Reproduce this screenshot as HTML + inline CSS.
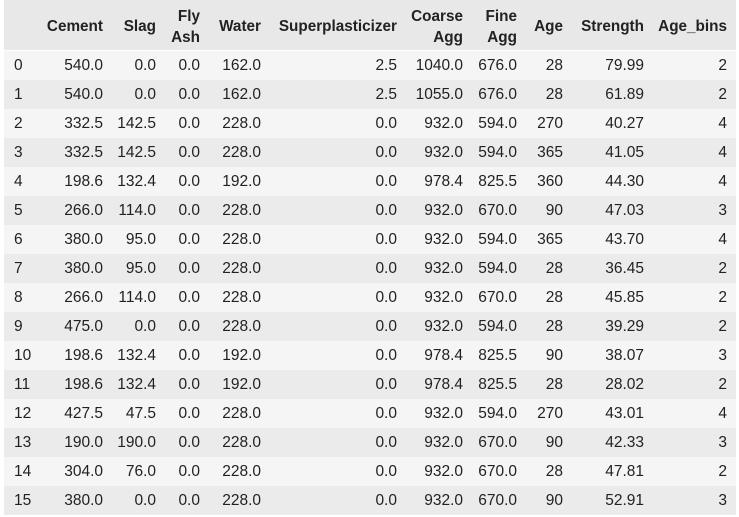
<!DOCTYPE html>
<html><head><meta charset="utf-8">
<style>
html,body{margin:0;padding:0;background:#fff;width:739px;height:517px;overflow:hidden}
body{font-family:"Liberation Sans",sans-serif;color:#222;position:relative}
.row{position:absolute;left:4px;width:732px}
.c{position:absolute;font-size:15.5px;white-space:nowrap;text-align:right}
.h .c{font-weight:bold;font-size:15.3px;line-height:21px}
</style></head><body>
<div id="tbl"></div>
<script>
const headers=[["",""],["","Cement"],["","Slag"],["Fly","Ash"],["","Water"],["","Superplasticizer"],["Coarse","Agg"],["Fine","Agg"],["","Age"],["","Strength"],["","Age_bins"]];
const rights=[null,103,156,200,261,397,463,517,563,644,727];
const rows=[
[0,"540.0","0.0","0.0","162.0","2.5","1040.0","676.0","28","79.99","2"],
[1,"540.0","0.0","0.0","162.0","2.5","1055.0","676.0","28","61.89","2"],
[2,"332.5","142.5","0.0","228.0","0.0","932.0","594.0","270","40.27","4"],
[3,"332.5","142.5","0.0","228.0","0.0","932.0","594.0","365","41.05","4"],
[4,"198.6","132.4","0.0","192.0","0.0","978.4","825.5","360","44.30","4"],
[5,"266.0","114.0","0.0","228.0","0.0","932.0","670.0","90","47.03","3"],
[6,"380.0","95.0","0.0","228.0","0.0","932.0","594.0","365","43.70","4"],
[7,"380.0","95.0","0.0","228.0","0.0","932.0","594.0","28","36.45","2"],
[8,"266.0","114.0","0.0","228.0","0.0","932.0","670.0","28","45.85","2"],
[9,"475.0","0.0","0.0","228.0","0.0","932.0","594.0","28","39.29","2"],
[10,"198.6","132.4","0.0","192.0","0.0","978.4","825.5","90","38.07","3"],
[11,"198.6","132.4","0.0","192.0","0.0","978.4","825.5","28","28.02","2"],
[12,"427.5","47.5","0.0","228.0","0.0","932.0","594.0","270","43.01","4"],
[13,"190.0","190.0","0.0","228.0","0.0","932.0","670.0","90","42.33","3"],
[14,"304.0","76.0","0.0","228.0","0.0","932.0","670.0","28","47.81","2"],
[15,"380.0","0.0","0.0","228.0","0.0","932.0","670.0","90","52.91","3"]];
const tbl=document.getElementById('tbl');
const hr=document.createElement('div');
hr.className='row h';
hr.style.top='0px';hr.style.height='50px';hr.style.background='#e8e8e8';


tbl.appendChild(hr);
headers.forEach((h,j)=>{
  if(j===0)return;
  const d=document.createElement('div');
  d.className='c';
  
  
  d.style.right=(732-(rights[j]-4))+'px';
  if(h[0]){d.style.top='6px';d.innerHTML=h[0]+'<br>'+h[1];}
  else{d.style.top='16px';d.textContent=h[1];}
  hr.appendChild(d);
});
rows.forEach((r,i)=>{
  const rw=document.createElement('div');
  rw.className='row';
  
  
  rw.style.top=(50.5+29*i)+'px';rw.style.height='29px';
  rw.style.background=i%2?'#ebebeb':'#f5f5f5';
  tbl.appendChild(rw);
  r.forEach((v,j)=>{
    const d=document.createElement('div');
    d.className='c';
    
    
    d.style.top='6.5px';
    if(j===0){d.style.left='10px';d.style.textAlign='left';}
    else d.style.right=(732-(rights[j]-4))+'px';
    d.textContent=v;
    rw.appendChild(d);
  });
});
</script>
</body></html>
